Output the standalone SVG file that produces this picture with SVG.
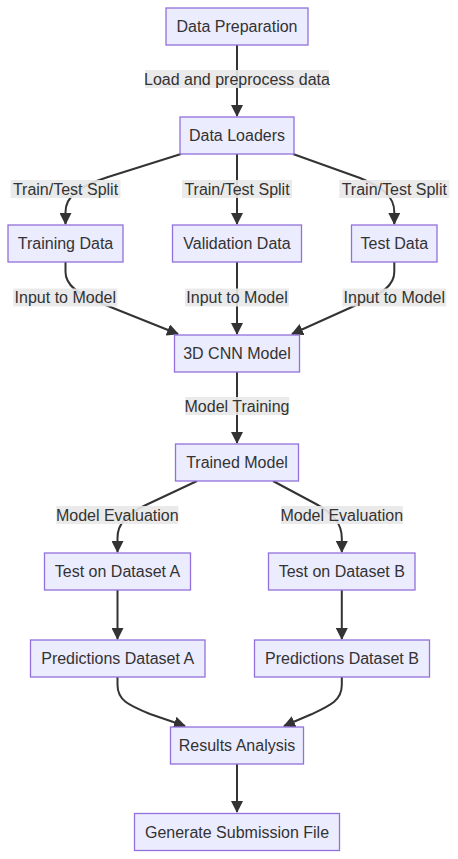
<svg xmlns="http://www.w3.org/2000/svg" width="458" height="859" viewBox="0 0 458 859">
<style>
.node rect{fill:#ECECFF;stroke:#9370DB;stroke-width:1.3px;}
text{font-family:"Liberation Sans",Arial,sans-serif;font-size:16px;fill:#333;text-anchor:middle;}
.edge{fill:none;stroke:#333;stroke-width:2px;}
.lbl rect{fill:#e8e8e8;opacity:0.9;}
</style>
<defs>
<marker id="arrow" markerUnits="userSpaceOnUse" markerWidth="12" markerHeight="12" viewBox="0 0 12 12" refX="11" refY="6" orient="auto">
<path d="M0,0 L12,6 L0,12 z" fill="#333"/>
</marker>
</defs>
<g id="connectors">
<path class="edge" marker-end="url(#arrow)" d="M237,45 L237,116"/>
<path class="edge" marker-end="url(#arrow)" d="M181,154 L108,177 C80,186 65.5,196 65.5,212 L65.5,224"/>
<path class="edge" marker-end="url(#arrow)" d="M237,154 L237,224"/>
<path class="edge" marker-end="url(#arrow)" d="M293,154 L360,178 C382,187 394.3,196 394.3,212 L394.3,224"/>
<path class="edge" marker-end="url(#arrow)" d="M65.5,262 L65.5,272 C65.5,285 78,294 98,302 L178,334"/>
<path class="edge" marker-end="url(#arrow)" d="M237,262 L237,334"/>
<path class="edge" marker-end="url(#arrow)" d="M394.3,262 L394.3,272 C394.3,285 382,294 363,302 L292,334"/>
<path class="edge" marker-end="url(#arrow)" d="M237,372 L237,443"/>
<path class="edge" marker-end="url(#arrow)" d="M197,481 L148,504 C126,514 117.5,524 117.5,538 L117.5,552"/>
<path class="edge" marker-end="url(#arrow)" d="M273,481 L316,504 C334,514 341.8,524 341.8,538 L341.8,552"/>
<path class="edge" marker-end="url(#arrow)" d="M117.5,590 L117.5,639"/>
<path class="edge" marker-end="url(#arrow)" d="M341.8,590 L341.8,639"/>
<path class="edge" marker-end="url(#arrow)" d="M117.5,677 L117.5,685 C117.5,700 128,705 150,714 L185,726"/>
<path class="edge" marker-end="url(#arrow)" d="M341.8,677 L341.8,685 C341.8,700 331,705 312,714 L284,726"/>
<path class="edge" marker-end="url(#arrow)" d="M237,764 L237,812"/>
</g>
<g id="edge-labels">
<g class="lbl" id="lbl-load"><rect x="145" y="70" width="184" height="18"/><text x="237" y="84.5">Load and preprocess data</text></g>
<g class="lbl" id="lbl-split1"><rect x="10.5" y="180" width="110" height="18"/><text x="65.5" y="194.5">Train/Test Split</text></g>
<g class="lbl" id="lbl-split2"><rect x="182" y="180" width="110" height="18"/><text x="237" y="194.5">Train/Test Split</text></g>
<g class="lbl" id="lbl-split3"><rect x="339.3" y="180" width="110" height="18"/><text x="394.3" y="194.5">Train/Test Split</text></g>
<g class="lbl" id="lbl-input1"><rect x="13.3" y="288.5" width="104" height="18"/><text x="65.3" y="303">Input to Model</text></g>
<g class="lbl" id="lbl-input2"><rect x="185" y="288.5" width="104" height="18"/><text x="237" y="303">Input to Model</text></g>
<g class="lbl" id="lbl-input3"><rect x="342.3" y="288.5" width="104" height="18"/><text x="394.3" y="303">Input to Model</text></g>
<g class="lbl" id="lbl-training"><rect x="185.3" y="397" width="104" height="18"/><text x="237" y="411.5">Model Training</text></g>
<g class="lbl" id="lbl-eval1"><rect x="56.3" y="506" width="122" height="18"/><text x="117.3" y="520.5">Model Evaluation</text></g>
<g class="lbl" id="lbl-eval2"><rect x="281" y="506" width="122" height="18"/><text x="341.8" y="520.5">Model Evaluation</text></g>
</g>
<g class="node" id="prep"><rect x="166" y="8" width="142" height="37"/><text x="237" y="32">Data Preparation</text></g>
<g class="node" id="loaders"><rect x="180" y="117" width="114" height="37"/><text x="237" y="141">Data Loaders</text></g>
<g class="node" id="training"><rect x="8" y="225" width="115" height="37"/><text x="65.5" y="249">Training Data</text></g>
<g class="node" id="validation"><rect x="172.5" y="225" width="129" height="37"/><text x="237" y="249">Validation Data</text></g>
<g class="node" id="testdata"><rect x="351.5" y="225" width="85.5" height="37"/><text x="394.3" y="249">Test Data</text></g>
<g class="node" id="cnn"><rect x="174.5" y="335" width="125" height="37"/><text x="237" y="359">3D CNN Model</text></g>
<g class="node" id="trained"><rect x="175.5" y="444" width="123" height="37"/><text x="237" y="468">Trained Model</text></g>
<g class="node" id="testA"><rect x="44.5" y="553" width="146" height="37"/><text x="117.5" y="577">Test on Dataset A</text></g>
<g class="node" id="testB"><rect x="268.5" y="553" width="146.5" height="37"/><text x="341.8" y="577">Test on Dataset B</text></g>
<g class="node" id="predA"><rect x="30.5" y="640" width="174.5" height="37"/><text x="117.7" y="664">Predictions Dataset A</text></g>
<g class="node" id="predB"><rect x="254.5" y="640" width="175" height="37"/><text x="342" y="664">Predictions Dataset B</text></g>
<g class="node" id="results"><rect x="170.5" y="727" width="133" height="37"/><text x="237" y="751">Results Analysis</text></g>
<g class="node" id="submit"><rect x="134.5" y="813.5" width="205" height="37"/><text x="237" y="837.5">Generate Submission File</text></g>
</svg>
